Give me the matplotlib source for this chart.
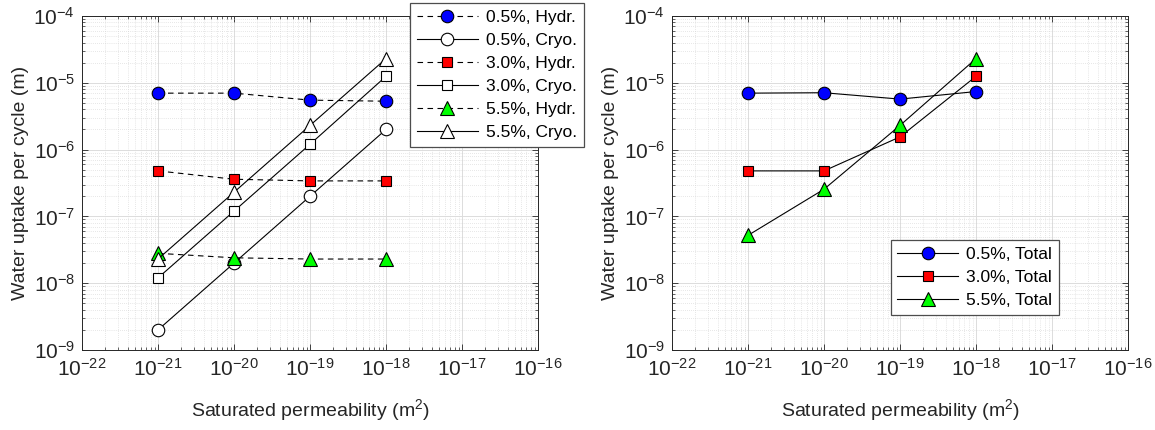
import numpy as np
import matplotlib.pyplot as plt
from matplotlib.ticker import FixedLocator, LogFormatterSciNotation, NullFormatter

plt.rcParams['font.family'] = ['Liberation Sans', 'DejaVu Sans']
plt.rcParams['mathtext.fontset'] = 'custom'
plt.rcParams['mathtext.rm'] = 'Liberation Sans'
plt.rcParams['mathtext.it'] = 'Liberation Sans'

# Saturated permeability (m^2)
perm = [1e-21, 1e-20, 1e-19, 1e-18]

# Water uptake per cycle (m), split by mechanism
hydr_05 = [7.0e-6, 7.0e-6, 5.5e-6, 5.3e-6]
cryo_05 = [2.0e-9, 2.0e-8, 2.0e-7, 2.0e-6]
hydr_30 = [4.8e-7, 3.6e-7, 3.4e-7, 3.4e-7]
cryo_30 = [1.2e-8, 1.2e-7, 1.2e-6, 1.25e-5]
hydr_55 = [2.8e-8, 2.4e-8, 2.3e-8, 2.3e-8]
cryo_55 = [2.3e-8, 2.3e-7, 2.3e-6, 2.3e-5]

# Total uptake
total_05 = [7.0e-6, 7.1e-6, 5.7e-6, 7.4e-6]
total_30 = [4.8e-7, 4.8e-7, 1.55e-6, 1.25e-5]
total_55 = [5.2e-8, 2.55e-7, 2.3e-6, 2.3e-5]

# Decades shown on each axis
x_decades = list(range(-22, -15))
y_decades = list(range(-9, -3))

FS = 12.5
TICK_FS = 15
LABEL_FS = 14
EDGE = '#262626'
DASH = (0, (5, 4))
MS = {'o': 9, 's': 7.5, '^': 10}

W, H = 1155, 430


def minor_ticks(decades):
    return [m * 10.0 ** d for d in decades[:-1] for m in range(2, 10)]


def style_axis(ax):
    ax.set_xscale('log')
    ax.set_yscale('log')
    ax.set_xlim(1e-22, 1e-16)
    ax.set_ylim(1e-9, 1e-4)
    ax.xaxis.set_major_locator(FixedLocator([10.0 ** d for d in x_decades]))
    ax.yaxis.set_major_locator(FixedLocator([10.0 ** d for d in y_decades]))
    ax.xaxis.set_minor_locator(FixedLocator(minor_ticks(x_decades)))
    ax.yaxis.set_minor_locator(FixedLocator(minor_ticks(y_decades)))
    ax.xaxis.set_major_formatter(LogFormatterSciNotation())
    ax.yaxis.set_major_formatter(LogFormatterSciNotation())
    ax.xaxis.set_minor_formatter(NullFormatter())
    ax.yaxis.set_minor_formatter(NullFormatter())
    ax.tick_params(which='both', direction='in', top=True, right=True,
                   labelsize=TICK_FS, colors=EDGE)
    ax.tick_params(which='major', length=4, width=0.6)
    ax.tick_params(which='minor', length=2.5, width=0.5)
    ax.tick_params(axis='x', pad=6)
    ax.tick_params(axis='y', pad=5)
    ax.grid(True, which='major', color='#dcdcdc', lw=0.7, ls='-')
    ax.grid(True, which='minor', color='#d0d0d0', lw=0.5, ls=(0, (1, 2)))
    ax.set_axisbelow(True)
    for s in ax.spines.values():
        s.set_color(EDGE)
        s.set_linewidth(0.7)
    ax.set_xlabel('Saturated permeability (m$^2$)', fontsize=LABEL_FS, color=EDGE, labelpad=12)
    ax.set_ylabel('Water uptake per cycle (m)', fontsize=LABEL_FS, color=EDGE, labelpad=3)


def series(ax, y, marker, face, ls, label):
    ax.plot(perm, y, ls=ls, lw=0.8, color='k', marker=marker, ms=MS[marker],
            mfc=face, mec='k', mew=0.8, label=label)


fig = plt.figure(figsize=(W / 100, H / 100), dpi=100)
ax1 = fig.add_axes([82 / W, 1 - 350 / H, 456 / W, 334 / H])
ax2 = fig.add_axes([672 / W, 1 - 350 / H, 456 / W, 334 / H])

# Left panel: hydraulic vs cryo suction
series(ax1, hydr_05, 'o', '#0000ff', DASH, '0.5%, Hydr.')
series(ax1, cryo_05, 'o', 'white', '-', '0.5%, Cryo.')
series(ax1, hydr_30, 's', '#ff0000', DASH, '3.0%, Hydr.')
series(ax1, cryo_30, 's', 'white', '-', '3.0%, Cryo.')
series(ax1, hydr_55, '^', '#00ff00', DASH, '5.5%, Hydr.')
series(ax1, cryo_55, '^', 'white', '-', '5.5%, Cryo.')
style_axis(ax1)

leg_kw = dict(bbox_transform=fig.transFigure, fontsize=FS, handlelength=3.5,
              handletextpad=0.45, labelspacing=0.45, borderpad=0.4,
              borderaxespad=0, fancybox=False, framealpha=1, edgecolor='#4d4d4d')
leg1 = ax1.legend(loc='upper left', bbox_to_anchor=(410 / W, 1 - 3 / H), **leg_kw)
leg1.get_frame().set_linewidth(0.9)

# Right panel: total uptake
series(ax2, total_05, 'o', '#0000ff', '-', '0.5%, Total')
series(ax2, total_30, 's', '#ff0000', '-', '3.0%, Total')
series(ax2, total_55, '^', '#00ff00', '-', '5.5%, Total')
style_axis(ax2)
leg2 = ax2.legend(loc='lower right', bbox_to_anchor=(1059 / W, 1 - 315 / H), **leg_kw)
leg2.get_frame().set_linewidth(0.9)

fig.savefig('out.png', dpi=100)
